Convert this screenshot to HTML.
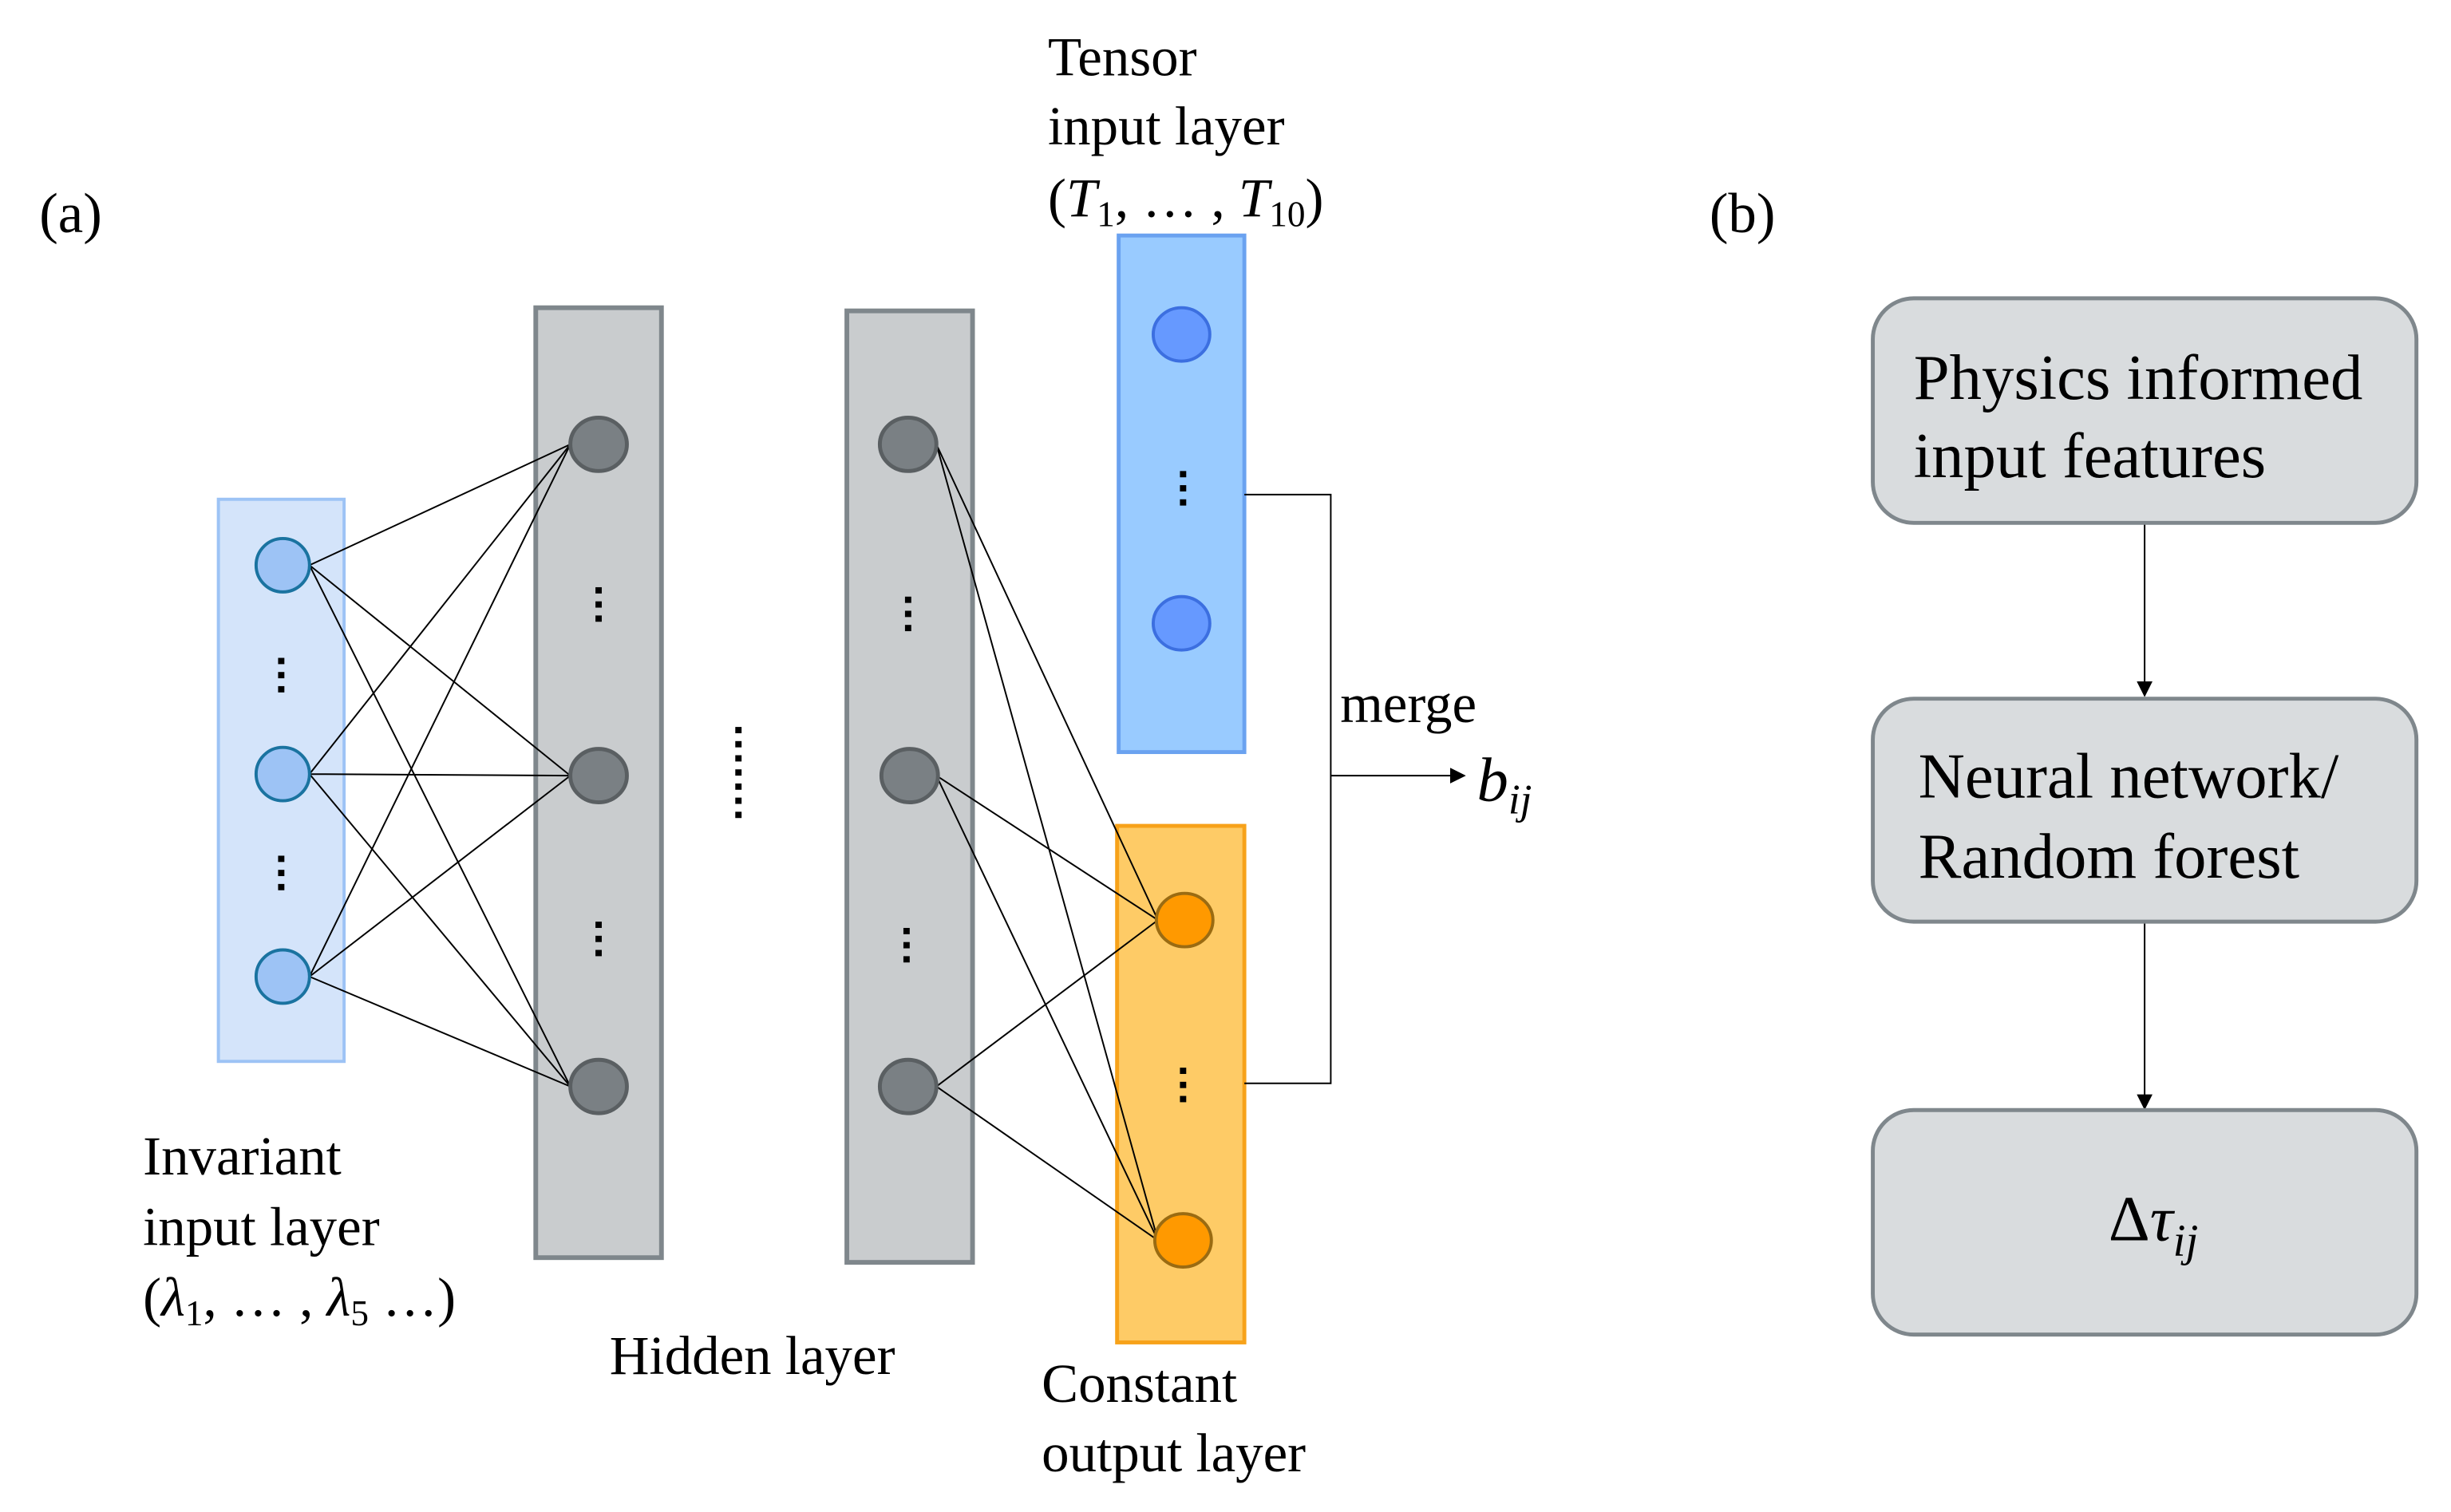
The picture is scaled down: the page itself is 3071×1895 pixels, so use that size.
<!DOCTYPE html>
<html><head><meta charset="utf-8"><style>html,body{margin:0;padding:0;background:#fff;}svg{display:block;}</style></head>
<body>
<svg width="3071" height="1895" viewBox="0 0 1560 963" preserveAspectRatio="none" xmlns="http://www.w3.org/2000/svg" font-family="'Liberation Serif', serif">
<defs><marker id="ah" markerWidth="10" markerHeight="10" refX="9" refY="5" orient="auto" markerUnits="userSpaceOnUse"><path d="M0,0 L10,5 L0,10 z" fill="#000"/></marker></defs>
<rect width="1560" height="963" fill="#fff"/>
<text x="25" y="148" font-size="36">(a)</text>
<text x="1088" y="148" font-size="36">(b)</text>

<rect x="139" y="318" width="80" height="358" fill="#d4e4fa" stroke="#9dc3f5" stroke-width="2"/>
<rect x="341" y="196" width="80" height="605" fill="#c9ccce" stroke="#7f878c" stroke-width="3"/>
<rect x="539" y="198" width="80" height="606" fill="#c9ccce" stroke="#7f878c" stroke-width="3"/>
<rect x="712" y="150" width="80" height="329" fill="#99cbff" stroke="#6aa2f0" stroke-width="2.5"/>
<rect x="711" y="526" width="81" height="329" fill="#fecb66" stroke="#f7a21a" stroke-width="2.5"/>

<g stroke="#000" stroke-width="1">
<path d="M197,360 L363,283 M197,360 L363,494 M197,360 L363,692"/>
<path d="M197,493 L363,283 M197,493 L363,494 M197,493 L363,692"/>
<path d="M197,622 L363,283 M197,622 L363,494 M197,622 L363,692"/>
<path d="M596,283 L737,586 M596,283 L737,790"/>
<path d="M596,494 L737,586 M596,494 L737,790"/>
<path d="M596,692 L737,586 M596,692 L737,790"/>
<path d="M792,315 L847,315 L847,690 L792,690" fill="none"/>
<path d="M847,494 L932,494" marker-end="url(#ah)"/>
<path d="M1365,333 L1365,443" marker-end="url(#ah)"/>
<path d="M1365,587 L1365,706" marker-end="url(#ah)"/>
</g>

<g fill="#9dc3f5" stroke="#1a73a0" stroke-width="2">
<circle cx="180" cy="360" r="17"/><circle cx="180" cy="493" r="17"/><circle cx="180" cy="622" r="17"/>
</g>
<g fill="#7a8084" stroke="#5a5f62" stroke-width="2.5">
<ellipse cx="381" cy="283" rx="18" ry="17"/><ellipse cx="381" cy="494" rx="18" ry="17"/><ellipse cx="381" cy="692" rx="18" ry="17"/>
<ellipse cx="578" cy="283" rx="18" ry="17"/><ellipse cx="579" cy="494" rx="18" ry="17"/><ellipse cx="578" cy="692" rx="18" ry="17"/>
</g>
<g fill="#6699ff" stroke="#3c6fe0" stroke-width="2">
<ellipse cx="752" cy="213" rx="18" ry="17"/><ellipse cx="752" cy="397" rx="18" ry="17"/>
</g>
<g fill="#ff9900" stroke="#9a6b12" stroke-width="2">
<ellipse cx="754" cy="586" rx="18" ry="17"/><ellipse cx="753" cy="790" rx="18" ry="17"/>
</g>

<g fill="#000">
<rect x="177" y="419" width="4" height="4"/><rect x="177" y="428" width="4" height="4"/><rect x="177" y="437" width="4" height="4"/>
<rect x="177" y="545" width="4" height="4"/><rect x="177" y="554" width="4" height="4"/><rect x="177" y="563" width="4" height="4"/>
<rect x="379" y="374" width="4" height="4"/><rect x="379" y="383" width="4" height="4"/><rect x="379" y="392" width="4" height="4"/>
<rect x="379" y="587" width="4" height="4"/><rect x="379" y="596" width="4" height="4"/><rect x="379" y="605" width="4" height="4"/>
<rect x="576" y="380" width="4" height="4"/><rect x="576" y="389" width="4" height="4"/><rect x="576" y="398" width="4" height="4"/>
<rect x="575" y="591" width="4" height="4"/><rect x="575" y="600" width="4" height="4"/><rect x="575" y="609" width="4" height="4"/>
<rect x="751" y="300" width="4" height="4"/><rect x="751" y="309" width="4" height="4"/><rect x="751" y="318" width="4" height="4"/>
<rect x="751" y="680" width="4" height="4"/><rect x="751" y="689" width="4" height="4"/><rect x="751" y="698" width="4" height="4"/>
<rect x="468" y="463" width="4" height="4"/><rect x="468" y="472" width="4" height="4"/><rect x="468" y="481" width="4" height="4"/><rect x="468" y="490" width="4" height="4"/><rect x="468" y="499" width="4" height="4"/><rect x="468" y="508" width="4" height="4"/><rect x="468" y="517" width="4" height="4"/>
</g>

<g font-size="35" fill="#000">
<text x="667" y="48">Tensor</text>
<text x="667" y="92">input layer</text>
<text x="667" y="138">(<tspan font-style="italic">T</tspan><tspan font-size="23" dy="6">1</tspan><tspan dy="-6">, … , </tspan><tspan font-style="italic">T</tspan><tspan font-size="23" dy="6">10</tspan><tspan dy="-6">)</tspan></text>
<text x="91" y="748">Invariant</text>
<text x="91" y="793">input layer</text>
<text x="91" y="838">(<tspan font-style="italic">λ</tspan><tspan font-size="23" dy="6">1</tspan><tspan dy="-6">, … , </tspan><tspan font-style="italic">λ</tspan><tspan font-size="23" dy="6">5</tspan><tspan dy="-6"> …)</tspan></text>
<text x="388" y="875">Hidden layer</text>
<text x="663" y="893">Constant</text>
<text x="663" y="937">output layer</text>
<text x="853" y="460">merge</text>
<text x="940" y="510" font-size="40" font-style="italic">b<tspan font-size="27" dy="8">ij</tspan></text>
</g>

<g fill="#d9dcde" stroke="#7f878c" stroke-width="2.5">
<rect x="1192" y="190" width="346" height="143" rx="26"/>
<rect x="1192" y="445" width="346" height="142" rx="26"/>
<rect x="1192" y="707" width="346" height="143" rx="26"/>
</g>
<g font-size="41" fill="#000">
<text x="1218" y="254">Physics informed</text>
<text x="1218" y="304">input features</text>
<text x="1221" y="508">Neural network/</text>
<text x="1221" y="559">Random forest</text>
<text x="1342" y="790">Δ<tspan font-style="italic">τ</tspan><tspan font-size="29" font-style="italic" dy="10">ij</tspan></text>
</g>
</svg>
</body></html>
